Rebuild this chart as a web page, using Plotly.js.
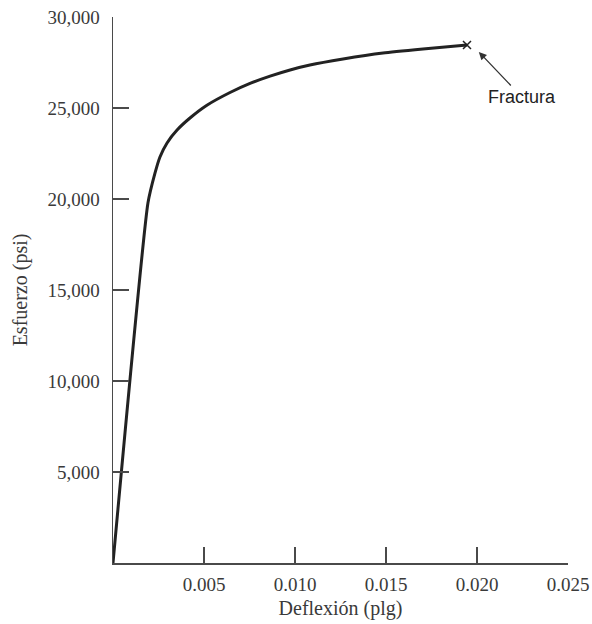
<!DOCTYPE html>
<html>
<head>
<meta charset="utf-8">
<script src="https://cdn.plot.ly/plotly-3.0.1.min.js"></script>
<style>html,body{margin:0;padding:0;background:#fff;}#chart{width:592px;height:624px;}</style>
</head>
<body>
<div id="chart"></div>
<script>
// Curve: deflection (in) vs stress (psi)
const deflection = [0, 0.00192, 0.00231, 0.00258, 0.00297, 0.00352, 0.00423, 0.00516, 0.00643, 0.00753, 0.00863, 0.00973, 0.01082, 0.01264, 0.01484, 0.01703, 0.01945];
const stress     = [0, 19780, 21430, 22310, 23080, 23790, 24450, 25150, 25850, 26350, 26750, 27090, 27360, 27690, 28020, 28240, 28460];

// Fracture point
const fractureX = [0.01945];
const fractureY = [28460];
const fractureLabel = "Fractura";
const arrowTipX = 0.0201;
const arrowTipY = 28080;

// Ticks
const xTickVals = [0.005, 0.010, 0.015, 0.020, 0.025];
const xTickText = ["0.005", "0.010", "0.015", "0.020", "0.025"];
const yTickVals = [5000, 10000, 15000, 20000, 25000, 30000];
const yTickText = ["5,000", "10,000", "15,000", "20,000", "25,000", "30,000"];

const xTitle = "Deflexión (plg)";
const yTitle = "Esfuerzo (psi)";

const fontFam = "Liberation Serif, DejaVu Serif, serif";
const axisColor = "#4a4a4a";
const textColor = "#3a3a3a";

const traces = [
  {
    x: deflection, y: stress, type: "scatter", mode: "lines",
    line: {color: "#222", width: 3, shape: "spline", smoothing: 0.5},
    hoverinfo: "skip", showlegend: false
  },
  {
    x: fractureX, y: fractureY, type: "scatter", mode: "markers",
    marker: {symbol: "x-thin-open", size: 8, color: "#222", line: {width: 1.5, color: "#222"}},
    hoverinfo: "skip", showlegend: false
  }
];

const layout = {
  width: 592, height: 624,
  margin: {l: 113, r: 24, t: 17, b: 61},
  paper_bgcolor: "#fff", plot_bgcolor: "#fff",
  showlegend: false,
  font: {family: fontFam, color: textColor, size: 19},
  xaxis: {
    range: [0, 0.025], tickvals: xTickVals, ticktext: xTickText,
    ticks: "inside", ticklen: 16, tickwidth: 1.5, tickcolor: axisColor,
    showline: true, linecolor: axisColor, linewidth: 1.5,
    showgrid: false, zeroline: false, mirror: false,
    tickfont: {family: fontFam, size: 19, color: textColor},
    ticklabelstandoff: 4,
    title: {text: xTitle, font: {family: fontFam, size: 20, color: textColor}, standoff: 6}
  },
  yaxis: {
    range: [0, 30000], tickvals: yTickVals, ticktext: yTickText,
    ticks: "inside", ticklen: 16, tickwidth: 1.5, tickcolor: axisColor,
    showline: true, linecolor: axisColor, linewidth: 1.5,
    showgrid: false, zeroline: false, mirror: false,
    tickfont: {family: fontFam, size: 19, color: textColor},
    ticklabelstandoff: 8,
    title: {text: yTitle, font: {family: fontFam, size: 20, color: textColor}, standoff: 14}
  },
  annotations: [
    {
      x: arrowTipX, y: arrowTipY, xref: "x", yref: "y",
      text: fractureLabel, showarrow: true,
      ax: 43, ay: 45,
      arrowhead: 2, arrowsize: 1.2, arrowwidth: 1.3, arrowcolor: "#333",
      font: {family: "Liberation Sans, Arial, sans-serif", size: 18, color: "#222"}
    }
  ]
};

Plotly.newPlot("chart", traces, layout, {displayModeBar: false, staticPlot: true});
</script>
</body>
</html>
